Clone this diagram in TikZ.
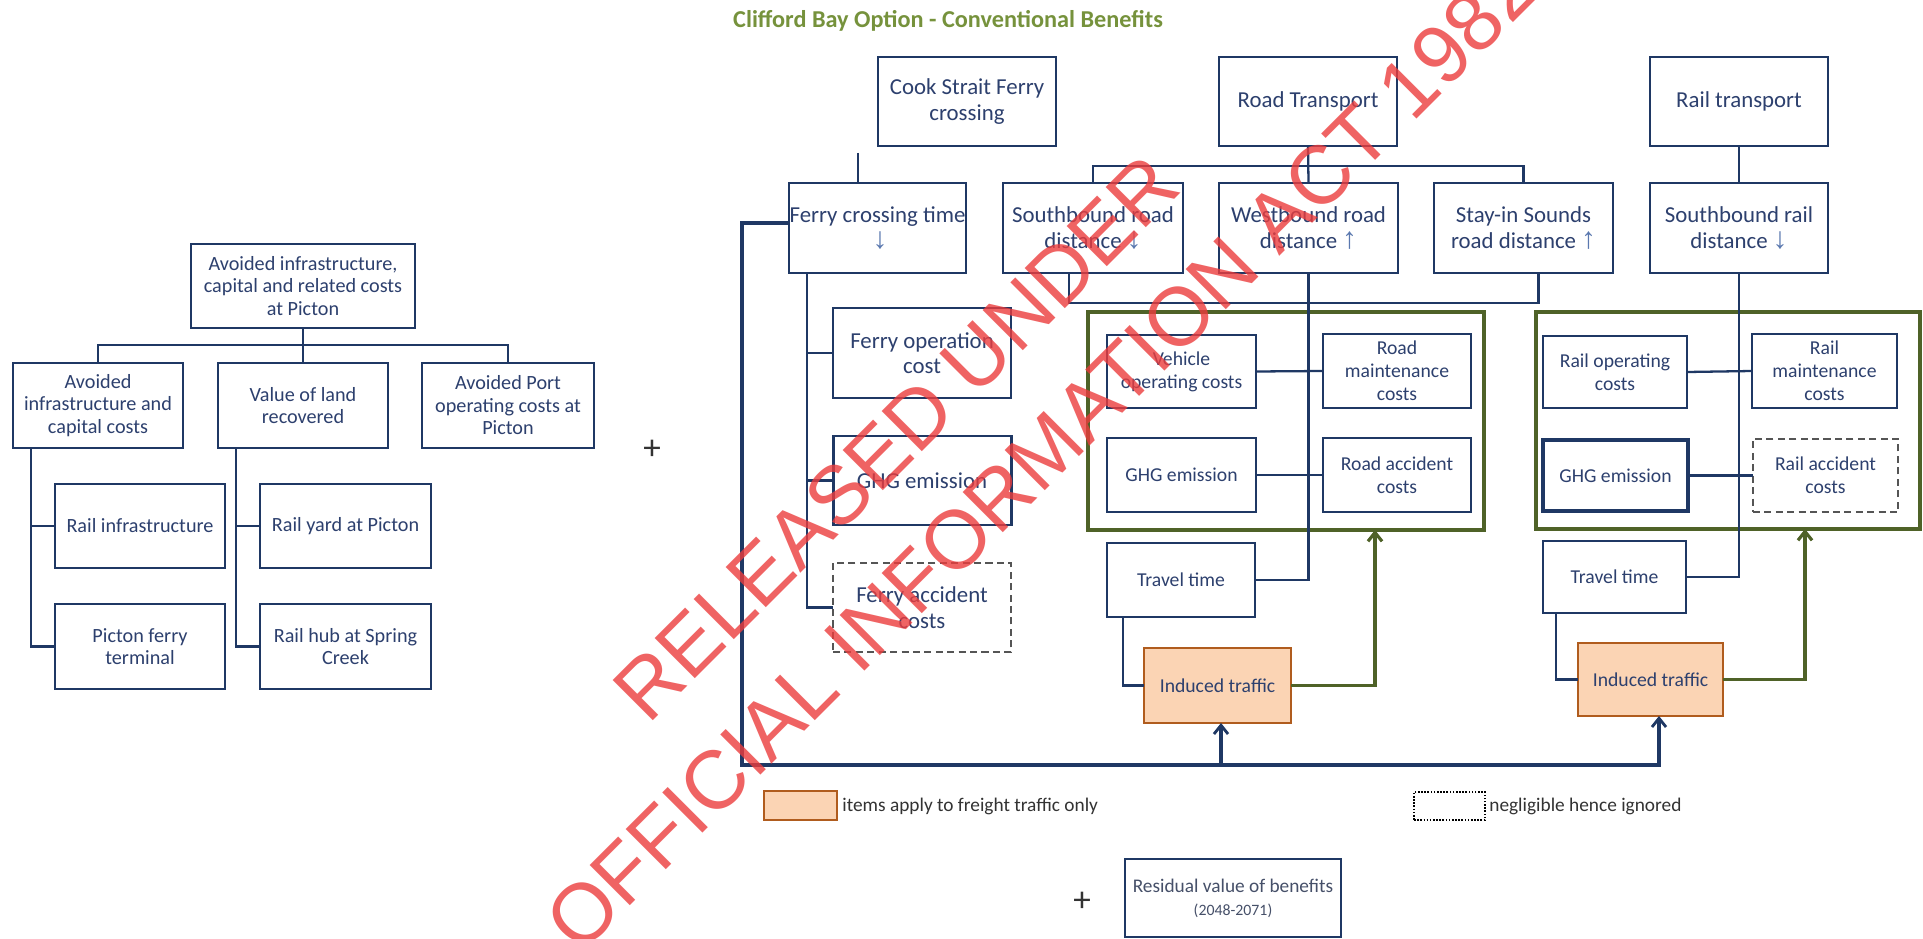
\documentclass[tikz,border=0pt]{standalone}
\usepackage{fontspec}
\setmainfont{Carlito}
\newfontfamily\wmfont{Liberation Sans}
\newfontfamily\arrfont{Liberation Sans}
\usetikzlibrary{arrows.meta,calc}

\definecolor{bxline}{RGB}{31,56,100}
\definecolor{bxtext}{RGB}{45,64,110}
\definecolor{arrblue}{RGB}{90,120,175}
\definecolor{grpgreen}{RGB}{79,98,40}
\definecolor{ttlgreen}{RGB}{118,146,60}
\definecolor{orfill}{RGB}{251,212,180}
\definecolor{orline}{RGB}{176,92,30}
\definecolor{dashgray}{RGB}{85,85,85}
\definecolor{residtext}{RGB}{70,80,105}
\definecolor{wmred}{RGB}{236,60,60}

% direction marks after a label
\newcommand\arrup{{\arrfont\fontsize{17}{14.5}\selectfont\color{arrblue}\,↑}}
\newcommand\arrdn{{\arrfont\fontsize{17}{14.5}\selectfont\color{arrblue}\,↓}}

% box from its corners: name, x1, y1, x2, y2, style, text
\newcommand\boxnode[7]{%
  \pgfmathsetlengthmacro\bw{(#4-#2)*0.02cm}%
  \pgfmathsetlengthmacro\bh{(#5-#3)*0.02cm}%
  \node[#6, minimum width=\bw, minimum height=\bh] (#1) at ({(#2+#4)/2},{(#3+#5)/2}) {#7};}

\tikzset{
  bx/.style={draw=bxline, line width=1.5pt, text=bxtext, inner sep=0pt, outer sep=0pt, align=center},
  fbig/.style={font=\fontsize{13}{14.5}\selectfont},
  fmid/.style={font=\fontsize{11.5}{12.8}\selectfont},
  fsmall/.style={font=\fontsize{11.2}{13}\selectfont},
  dashbox/.style={draw=dashgray, line width=0.9pt, dash pattern=on 4pt off 2.5pt},
  freight/.style={fill=orfill, draw=orline},
  grp/.style={draw=grpgreen, line width=2.1pt, inner sep=0pt, outer sep=0pt},
  conn/.style={draw=bxline, line width=1.3pt},
  loopline/.style={draw=bxline, line width=1.9pt},
  feedtip/.style={-{Straight Barb[length=5pt,width=8pt,line width=1.6pt]}},
  gfeed/.style={draw=grpgreen, line width=2.1pt, -{Straight Barb[length=5pt,width=8pt,line width=1.8pt]}},
  plus/.style={font=\fontsize{20}{20}\selectfont, text=black!80},
  legtext/.style={font=\fontsize{11}{13}\selectfont, text=black!80, inner sep=0pt},
  legfreight/.style={fill=orfill, draw=orline, line width=1.5pt, inner sep=0pt},
  legdot/.style={draw=black, line width=0.7pt, dash pattern=on 0.9pt off 0.9pt, inner sep=0pt},
  wm/.style={anchor=base west, rotate=45, inner sep=0pt,
    font=\wmfont\fontsize{47}{47}\selectfont, text=wmred, text opacity=0.8}
}

\begin{document}
\begin{tikzpicture}[x=0.02cm, y=-0.02cm]
\fill[white] (0,0) rectangle (1923,939);
\useasboundingbox (0,0) rectangle (1923,939);

% title
\node[font=\bfseries\fontsize{13.8}{16}\selectfont, text=ttlgreen] (title) at (948,21)
  {Clifford Bay Option - Conventional Benefits};

% ---------- avoided costs at Picton ----------
\boxnode{T}{191}{244}{415}{328}{bx,fmid}{Avoided infrastructure,\\capital and related costs\\at Picton}
\boxnode{A1}{13}{363}{183}{448}{bx,fmid}{Avoided\\infrastructure and\\capital costs}
\boxnode{A2}{218}{363}{388}{448}{bx,fmid}{Value of land\\recovered}
\boxnode{A3}{422}{363}{594}{448}{bx,fmid}{Avoided Port\\operating costs at\\Picton}
\boxnode{R1}{55}{484}{225}{568}{bx,fmid}{Rail infrastructure}
\boxnode{R2}{55}{604}{225}{689}{bx,fmid}{Picton ferry\\terminal}
\boxnode{R3}{260}{484}{431}{568}{bx,fmid}{Rail yard at Picton}
\boxnode{R4}{260}{604}{431}{689}{bx,fmid}{Rail hub at Spring\\Creek}

\draw[conn] (T.south) -- (A2.north);
\draw[conn] (A1.north) |- ($(T.south)+(0,17)$) -| (A3.north);
\draw[conn] ($(A1.south west)+(18,0)$) |- (R1.west);
\draw[conn] ($(A1.south west)+(18,0)$) |- (R2.west);
\draw[conn] ($(A2.south west)+(18,0)$) |- (R3.west);
\draw[conn] ($(A2.south west)+(18,0)$) |- (R4.west);

\node[plus] (p1) at (652,450) {+};

% ---------- ferry ----------
\boxnode{C}{878}{57}{1056}{146}{bx,fbig}{Cook Strait Ferry\\crossing}
\boxnode{F}{789}{183}{966}{273}{bx,fbig}{Ferry crossing time\\\arrdn}
\boxnode{FO}{833}{308}{1011}{398}{bx,fbig}{Ferry operation\\cost}
\boxnode{G1}{833}{436}{1011}{525}{bx,fbig,line width=1.7pt}{GHG emission}
\boxnode{FA}{833}{563}{1011}{652}{bx,fbig,dashbox}{Ferry accident\\costs}

\coordinate (stub) at (858,153);
\draw[conn] (stub) -- (stub |- F.north);
\coordinate (fst) at ($(F.south west)+(18,0)$);
\draw[conn] (fst) |- (FO.west);
\draw[conn] (fst) |- (G1.west);
\draw[conn] (fst) |- (FA.west);

% ---------- road ----------
\boxnode{RT}{1219}{57}{1397}{146}{bx,fbig}{Road Transport}
\boxnode{SR}{1003}{183}{1183}{273}{bx,fbig}{Southbound road\\distance\arrdn}
\boxnode{WR}{1219}{183}{1398}{273}{bx,fbig}{Westbound road\\distance\arrup}
\boxnode{SI}{1434}{183}{1613}{273}{bx,fbig}{Stay-in Sounds\\road distance\arrup}
\boxnode{GB1}{1088}{312}{1484}{530}{grp}{}
\boxnode{VO}{1107}{335}{1256}{408}{bx,fsmall}{Vehicle\\operating costs}
\boxnode{G2}{1107}{438}{1256}{512}{bx,fsmall}{GHG emission}
\boxnode{RM}{1323}{334}{1471}{408}{bx,fsmall}{Road\\maintenance\\costs}
\boxnode{RA}{1323}{438}{1471}{512}{bx,fsmall}{Road accident\\costs}
\boxnode{TT1}{1107}{543}{1255}{617}{bx,fsmall}{Travel time}
\boxnode{IT1}{1144}{648}{1291}{723}{bx,fsmall,freight}{Induced traffic}

\draw[conn] (RT.south) -- (WR.north);
\draw[conn] (SR.north) -- ++(0,-17) -| (SI.north);
\draw[conn] ($(SR.south)+(-24,0)$) -- ++(0,30) -| ($(SI.south)+(15,0)$);
\draw[conn] (WR.south) |- (TT1.east);
\draw[conn] (VO.east) -- (RM.west);
\draw[conn] (G2.east) -- (RA.west);
\draw[conn] ($(TT1.south west)+(16,0)$) |- (IT1.west);
\coordinate (ga1) at (1375,0);
\draw[gfeed] (IT1.east) -| (ga1 |- GB1.south);

% ---------- rail ----------
\boxnode{RL}{1650}{57}{1828}{146}{bx,fbig}{Rail transport}
\boxnode{SRL}{1650}{183}{1828}{273}{bx,fbig}{Southbound rail\\distance\arrdn}
\boxnode{GB2}{1536}{312}{1920}{529}{grp}{}
\boxnode{RO}{1543}{336}{1687}{408}{bx,fsmall}{Rail operating\\costs}
\boxnode{RM2}{1752}{334}{1897}{408}{bx,fsmall}{Rail\\maintenance\\costs}
\boxnode{G3}{1543}{440}{1688}{511}{bx,fsmall,line width=2.6pt}{GHG emission}
\boxnode{RA2}{1753}{439}{1898}{512}{bx,fsmall,dashbox}{Rail accident\\costs}
\boxnode{TT2}{1543}{541}{1686}{613}{bx,fsmall}{Travel time}
\boxnode{IT2}{1578}{643}{1723}{716}{bx,fsmall,freight}{Induced traffic}

\draw[conn] (RL.south) -- (SRL.north);
\draw[conn] (SRL.south) |- (TT2.east);
\draw[conn] (RO.east) -- (RM2.west);
\draw[conn] (G3.east) -- (RA2.west);
\draw[conn] ($(TT2.south west)+(13,0)$) |- (IT2.west);
\coordinate (ga2) at (1805,0);
\draw[gfeed] (IT2.east) -| (ga2 |- GB2.south);

% ---------- ferry time feeds induced traffic ----------
\coordinate (lc) at (742,765);
\coordinate (j1) at (1221,765);
\coordinate (j2) at (1659,765);
\draw[loopline, feedtip] ($(F.west)+(0,-5)$) -| (lc) -- (j2) -- (j2 |- IT2.south);
\draw[loopline, feedtip] (j1) -- (j1 |- IT1.south);

% ---------- legend ----------
\boxnode{L1}{764}{791}{837}{820}{legfreight}{}
\node[legtext, anchor=west] (L1t) at (842,806) {items apply to freight traffic only};
\boxnode{L2}{1414}{792}{1485}{820}{legdot}{}
\node[legtext, anchor=west] (L2t) at (1489,806) {negligible hence ignored};

% ---------- residual value ----------
\node[plus] (p2) at (1082,902) {+};
\boxnode{RV}{1125}{859}{1341}{937}{bx,line width=1.3pt,font=\fontsize{11}{13}\selectfont,text=residtext}{Residual value of benefits\\{\fontsize{9}{10}\selectfont(2048-2071)}}

% ---------- release stamp ----------
\begin{scope}
\clip (0,0) rectangle (1923,939);
\node[wm] (wm1) at (648,726) {RELEASED UNDER};
\node[wm] (wm2) at (580,956) {OFFICIAL INFORMATION ACT 1982};
\end{scope}
\end{tikzpicture}
\end{document}
